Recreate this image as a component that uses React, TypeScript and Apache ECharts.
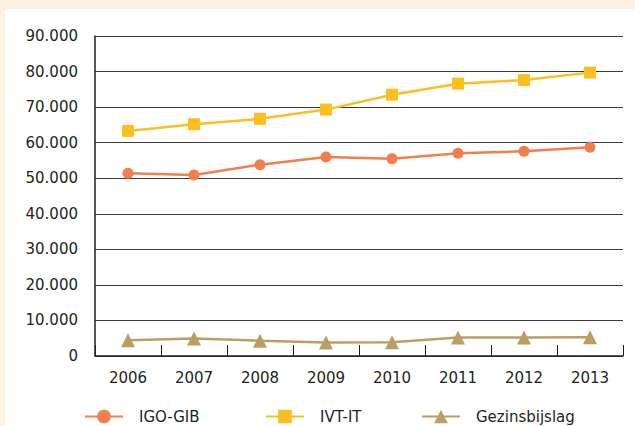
import React, { useEffect, useRef } from "react";
import * as echarts from "echarts";

const years = ["2006", "2007", "2008", "2009", "2010", "2011", "2012", "2013"];
const igoGib = [51400, 50900, 53800, 56000, 55500, 57000, 57600, 58700];
const ivtIt = [63300, 65200, 66700, 69300, 73500, 76600, 77600, 79700];
const gezinsbijslag = [4400, 4900, 4300, 3800, 3900, 5200, 5200, 5300];

const seriesNames = ["IGO-GIB", "IVT-IT", "Gezinsbijslag"];
const colors = ["#f27e4d", "#fcbf22", "#bd9e62"];
const symbols = ["circle", "rect", "triangle"];
const symbolSizes = [11, 12, 14];
const dataSets = [igoGib, ivtIt, gezinsbijslag];

const TEXT = "#231f20";
const FONT = "DejaVu Sans";

export default function App() {
  const ref = useRef<HTMLDivElement>(null);
  useEffect(() => {
    if (!ref.current) return;
    const chart = echarts.init(ref.current, null, { renderer: "svg" });
    const legendLefts = [79, 260, 416];
    chart.setOption({
      animation: false,
      backgroundColor: "transparent",
      textStyle: { fontFamily: FONT },
      grid: { left: 95, right: 12, top: 36, bottom: 70, containLabel: false },
      legend: seriesNames.map((n, i) => ({
        data: [n],
        left: legendLefts[i],
        top: 404,
        itemWidth: 38,
        itemHeight: 17,
        textStyle: {
          color: TEXT,
          fontSize: 15,
          fontFamily: FONT,
          padding: [0, 0, 0, 11],
        },
      })),
      xAxis: {
        type: "category",
        data: years,
        boundaryGap: true,
        axisLine: { show: true, lineStyle: { color: TEXT, width: 1.5 } },
        axisTick: {
          show: true,
          inside: true,
          length: 11,
          interval: 0,
          lineStyle: { color: TEXT, width: 1 },
        },
        axisLabel: { color: TEXT, fontSize: 15, margin: 14, fontFamily: FONT },
        splitLine: { show: false },
      },
      yAxis: {
        type: "value",
        min: 0,
        max: 90000,
        interval: 10000,
        axisLine: { show: true, lineStyle: { color: TEXT, width: 1.5 } },
        axisTick: { show: false },
        axisLabel: {
          color: TEXT,
          fontSize: 15,
          margin: 17,
          fontFamily: FONT,
          formatter: (v: number) => (v === 0 ? "0" : v / 1000 + ".000"),
        },
        splitLine: { show: true, lineStyle: { color: "#3a3a3a", width: 1 } },
      },
      series: seriesNames.map((n, i) => ({
        name: n,
        type: "line",
        data: dataSets[i],
        symbol: symbols[i],
        symbolSize: symbolSizes[i],
        showAllSymbol: true,
        itemStyle: { color: colors[i] },
        lineStyle: { color: colors[i], width: 2.5 },
      })),
    });
    return () => chart.dispose();
  }, []);
  return (
    <div
      style={{
        position: "fixed",
        left: 0,
        top: 0,
        width: 635,
        height: 426,
        background: "#fdf2e1",
      }}
    >
      <div
        style={{
          position: "absolute",
          left: 5,
          top: 9,
          width: 630,
          height: 417,
          background: "#ffffff",
        }}
      />
      <div
        ref={ref}
        style={{ position: "absolute", left: 0, top: 0, width: 635, height: 426 }}
      />
    </div>
  );
}
